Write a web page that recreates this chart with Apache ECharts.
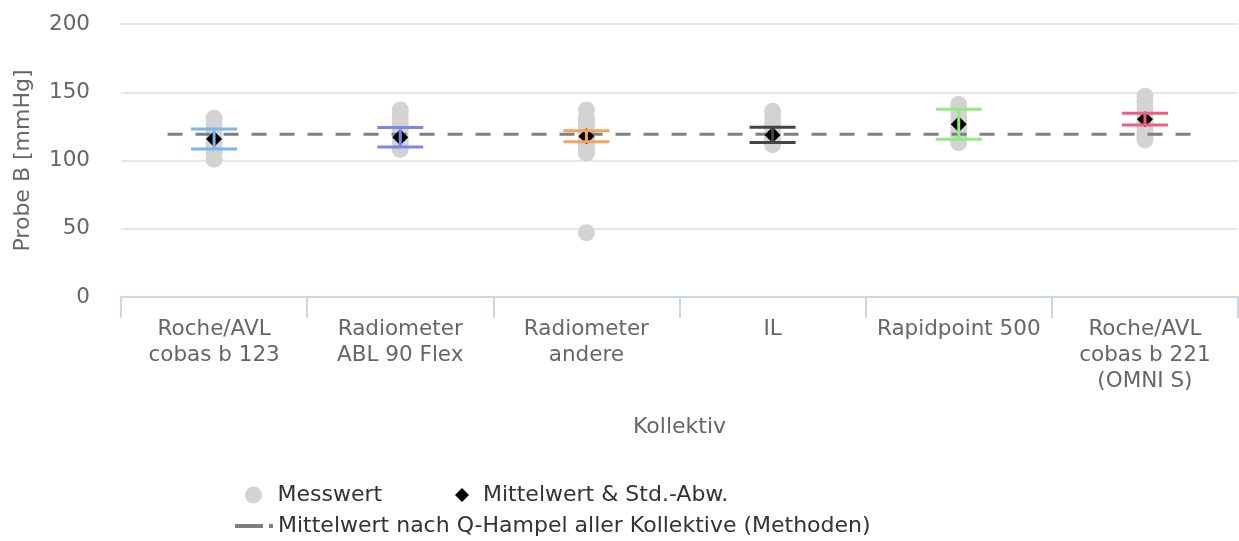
<!DOCTYPE html>
<html>
<head>
<meta charset="utf-8">
<script src="https://cdn.jsdelivr.net/npm/echarts@6/dist/echarts.min.js"></script>
<style>
html,body{margin:0;padding:0;background:#fff;}
#chart{width:1239px;height:541px;}
</style>
</head>
<body>
<div id="chart"></div>
<script>
var categories = ['Roche/AVL\ncobas b 123', 'Radiometer\nABL 90 Flex', 'Radiometer\nandere', 'IL', 'Rapidpoint 500', 'Roche/AVL\ncobas b 221\n(OMNI S)'];
var measurements = [
  [131, 127, 123, 119, 116, 113, 110, 106, 101],
  [137, 134, 130, 126, 122, 119, 116, 113, 110, 108],
  [137, 131, 128, 125, 121, 119, 117, 115, 113, 110, 108, 105.5, 47],
  [136, 131, 127, 123, 120, 117, 115, 113, 111.5],
  [141, 137, 132, 128, 124, 120, 117, 113],
  [147, 143, 139, 135, 131, 128, 125, 121, 118, 115]
];
var means = [115.7, 117.0, 117.8, 118.7, 126.5, 130.3];
var stdDevs = [7.3, 7.2, 4.0, 5.6, 11.0, 4.3];
var hampelMean = 119.3;
var yTicks = [0, 50, 100, 150, 200];

var barColors = ['#7cb5ec', '#8085e9', '#f7a35c', '#434348', '#90ed7d', '#f15c80'];

var scatterData = [];
measurements.forEach(function (arr, i) {
  arr.forEach(function (v) { scatterData.push([i, v]); });
});
var meanData = means.map(function (m, i) { return [i, m]; });
var errData = means.map(function (m, i) { return [i, m - stdDevs[i], m + stdDevs[i]]; });

var FONT = 'DejaVu Sans';
var chart = echarts.init(document.getElementById('chart'), null, {renderer: 'canvas'});
chart.setOption({
  animation: false,
  textStyle: {fontFamily: FONT},
  grid: {left: 121, right: 1, top: 24, bottom: 244},
  xAxis: [{
    type: 'category',
    data: categories,
    name: 'Kollektiv',
    nameLocation: 'middle',
    nameGap: 119,
    nameTextStyle: {fontSize: 22, color: '#666666', fontFamily: FONT},
    axisLine: {lineStyle: {color: '#ccd6eb', width: 2}},
    axisTick: {show: true, length: 21, lineStyle: {color: '#ccd6eb', width: 2}},
    axisLabel: {fontSize: 21.5, color: '#666666', lineHeight: 26, margin: 19, interval: 0, fontFamily: FONT},
    splitLine: {show: false}
  }, {
    type: 'value',
    min: -0.5,
    max: 5.5,
    show: false
  }],
  yAxis: {
    type: 'value',
    min: 0,
    max: 200,
    interval: 50,
    name: 'Probe B [mmHg]',
    nameLocation: 'middle',
    nameGap: 87,
    nameTextStyle: {fontSize: 22, color: '#666666', fontFamily: FONT},
    axisLine: {show: false},
    axisTick: {show: false},
    axisLabel: {fontSize: 21.5, color: '#666666', margin: 31, fontFamily: FONT,
      formatter: function (v) { return yTicks.indexOf(v) >= 0 ? String(v) : ''; }},
    splitLine: {lineStyle: {color: '#e6e6e6', width: 2}}
  },
  legend: [{
    left: 240, top: 479,
    itemWidth: 38, itemHeight: 17,
    textStyle: {fontSize: 22, color: '#333333', fontFamily: FONT},
    data: [{name: 'Messwert', icon: 'circle'}]
  }, {
    left: 450, top: 479,
    itemWidth: 14, itemHeight: 14,
    textStyle: {fontSize: 22, color: '#333333', fontFamily: FONT, padding: [0, 0, 0, 9]},
    data: [{name: 'Mittelwert & Std.-Abw.', icon: 'diamond'}]
  }, {
    left: 230, top: 510,
    itemWidth: 38, itemHeight: 4,
    textStyle: {fontSize: 22, color: '#333333', fontFamily: FONT},
    data: [{name: 'Mittelwert nach Q-Hampel aller Kollektive (Methoden)', icon: 'path://M0,0 H28 V4 H0 Z M34,0 H38 V4 H34 Z'}]
  }],
  series: [{
    name: 'Messwert',
    type: 'scatter',
    xAxisIndex: 0,
    data: scatterData,
    symbol: 'circle',
    symbolSize: 17,
    itemStyle: {color: '#d3d3d3', opacity: 1},
    z: 2
  }, {
    name: 'Mittelwert nach Q-Hampel aller Kollektive (Methoden)',
    type: 'line',
    xAxisIndex: 1,
    data: [[-0.25, hampelMean], [5.25, hampelMean]],
    showSymbol: false,
    symbol: 'none',
    lineStyle: {color: '#7f7f7f', width: 3, type: [15, 13]},
    itemStyle: {color: '#7f7f7f'},
    z: 3
  }, {
    name: 'Mittelwert & Std.-Abw.',
    type: 'scatter',
    xAxisIndex: 0,
    data: meanData,
    symbol: 'diamond',
    symbolSize: [16, 16],
    itemStyle: {color: '#000000', opacity: 1},
    z: 4
  }, {
    name: 'errorbars',
    type: 'custom',
    xAxisIndex: 0,
    data: errData,
    z: 5,
    renderItem: function (params, api) {
      var i = api.value(0);
      var lo = api.coord([i, api.value(1)]);
      var hi = api.coord([i, api.value(2)]);
      var hw = 23;
      var style = {stroke: barColors[i], lineWidth: 3};
      return {
        type: 'group',
        children: [
          {type: 'line', shape: {x1: hi[0], y1: hi[1], x2: lo[0], y2: lo[1]}, style: style},
          {type: 'line', shape: {x1: hi[0] - hw, y1: hi[1], x2: hi[0] + hw, y2: hi[1]}, style: style},
          {type: 'line', shape: {x1: lo[0] - hw, y1: lo[1], x2: lo[0] + hw, y2: lo[1]}, style: style}
        ]
      };
    }
  }]
});
</script>
</body>
</html>
